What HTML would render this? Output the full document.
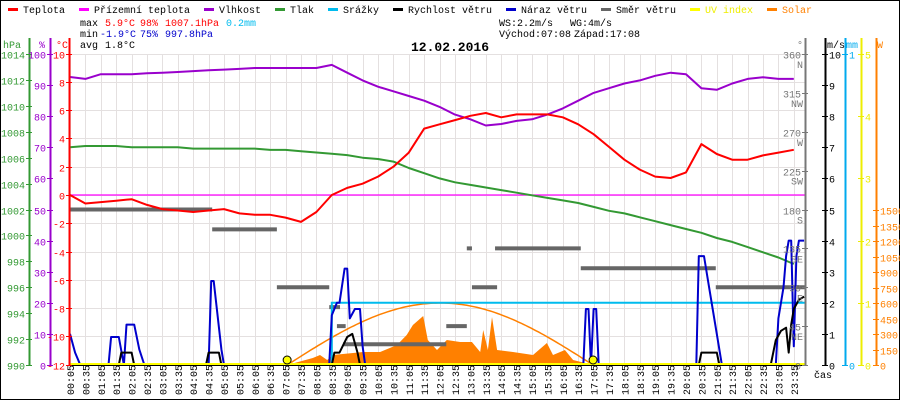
<!DOCTYPE html>
<html><head><meta charset="utf-8"><style>
html,body{margin:0;padding:0;background:#fff;}
#wrap{position:relative;width:900px;height:400px;overflow:hidden;}
svg{position:absolute;left:0;top:0;font-family:"Liberation Mono",monospace;}
</style></head><body>
<div id="wrap">
<svg id="svg" width="900" height="400" xmlns="http://www.w3.org/2000/svg"></svg>
</div>
<script>
// ---- data (time in minutes from midnight) ----
const halfHours = [];
for (let i = 0; i < 48; i++) halfHours.push(5 + i * 30);
const tempValues = [0,-0.6,-0.5,-0.4,-0.3,-0.7,-1.0,-1.1,-1.2,-1.1,-1.0,-1.3,-1.4,-1.4,-1.6,-1.9,-1.2,0,0.5,0.8,1.3,2.0,3.0,4.7,5.0,5.3,5.6,5.8,5.5,5.7,5.7,5.7,5.5,5.0,4.3,3.4,2.5,1.8,1.3,1.2,1.6,3.6,2.9,2.5,2.5,2.8,3.0,3.2];
const humValues = [92.6,92,93.5,93.5,93.5,93.8,94,94.2,94.5,94.8,95,95.2,95.5,95.5,95.5,95.5,95.5,96.5,94,91.5,89.5,88,86.5,85,83,80.5,79,77,77.5,78.5,79,80.5,82.5,85,87.5,89,90.5,91.5,93,94,93.5,89,88.5,90.5,92,92.5,92,92];
const pressValues = [1006.8,1006.9,1006.9,1006.9,1006.8,1006.8,1006.8,1006.8,1006.7,1006.7,1006.7,1006.7,1006.7,1006.6,1006.6,1006.5,1006.4,1006.3,1006.2,1006.0,1005.9,1005.7,1005.2,1004.8,1004.4,1004.1,1003.9,1003.7,1003.5,1003.3,1003.1,1002.9,1002.7,1002.5,1002.2,1001.9,1001.7,1001.4,1001.1,1000.8,1000.5,1000.2,999.8,999.5,999.1,998.7,998.3,997.8];
const gustTimes = [5,15,25,80,85,100,110,115,130,140,150,155,170,275,280,285,300,305,510,515,525,530,540,545,550,560,570,575,580,590,600,1005,1010,1015,1020,1025,1030,1035,1225,1230,1240,1250,1265,1275,1380,1385,1395,1400,1405,1410,1415,1420,1425,1435];
const gustValues = [1,0.4,0,0,0.9,0.9,0,1.3,1.3,0.5,0,0,0,0,2.7,2.7,0.5,0,0,1.6,2.0,2.0,3.1,3.1,1.5,1.8,1.8,0.6,0,0,0,0,1.8,1.8,0,1.8,1.8,0,0,3.5,3.5,2.5,1.0,0,0,1.5,2.5,3.5,4.0,4.0,0.6,3.5,4.0,4.0];
const speedTimes = [5,100,105,110,120,125,130,270,275,290,295,300,515,520,530,545,555,565,570,1230,1235,1260,1265,1270,1370,1380,1390,1400,1405,1410,1415,1425,1435];
const speedValues = [0,0,0.4,0.4,0.4,0.4,0,0,0.4,0.4,0.4,0,0,0.4,0.4,0.9,1.0,0.4,0,0,0.4,0.4,0.4,0,0,0.8,1.1,1.2,0.4,1.3,1.8,2.1,2.2];
const dirStart = [5,282,408,510,525,537,648,738,778,788,833,1000,1263];
const dirEnd = [282,408,510,531,542,648,738,778,788,837,1000,1263,1440];
const dirValues = [180,157,90,67,45,24,24,45,135,90,135,112,90];
const solarTimes = [428,478,492,506,517,576,609,642,661,673,693,702,720,739,765,788,804,810,819,827,837,868,907,934,946,969,985,1024];
const solarValues = [0,68,97,48,97,126,126,194,290,387,474,242,145,242,223,223,126,339,145,465,145,126,97,213,97,145,48,0];
const precipStart = 515, precipEnd = 1440, precipValue = 0.2;
const sunrise = 428, sunset = 1024, solarMax = 600;
const xTickLabels = [];
for (let i = 0; i < 48; i++) { const m = 5 + i * 30; xTickLabels.push(String(Math.floor(m/60)).padStart(2,'0') + ':' + String(m%60).padStart(2,'0')); }
const legendLabels = ['Teplota','Přízemní teplota','Vlhkost','Tlak','Srážky','Rychlost větru','Náraz větru','Směr větru','UV index','Solar'];
const legendColors = ['#ff0000','#ff00ff','#9900cc','#339933','#00bbee','#000000','#0000cc','#666666','#ffff00','#ff8000'];

// ---- scales ----
const X0 = 70, Y0 = 54, Y1 = 365;
const xs = t => Math.min(805, X0 + (t - 5) / 30 * 15.4);
const yT = v => 195 - v * 14.136;
const yH = v => Y1 - v * 3.11;
const yP = v => Y0 + (1014 - v) * 12.96;
const yW = v => Y1 - v * 31.1;
const yD = v => Y1 - v * 311 / 360;
const yS = v => Y1 - v * 0.10333;
const yMM = v => Y1 - v * 311;
const yUV = v => Y1 - v * 62.2;

const svg = document.getElementById('svg');
const NS = 'http://www.w3.org/2000/svg';
function mk(tag, attrs, parent) {
  const e = document.createElementNS(NS, tag);
  for (const k in attrs) e.setAttribute(k, attrs[k]);
  (parent || svg).appendChild(e);
  return e;
}
function txt(x, y, s, fill, size, anchor, weight) {
  const e = mk('text', {x: x, y: y, fill: fill, 'font-size': size || 10, 'text-anchor': anchor || 'start', 'font-weight': weight || 'normal'});
  e.textContent = s;
  return e;
}

let e = mk('rect', {x: 0.5, y: 0.5, width: 899, height: 399, fill: 'none', stroke: '#000'});



const grid = mk('g', {stroke: '#e4e0e0', 'stroke-width': 1});


for (let i = 0; i < 48; i++) { const x = Math.round(xs(halfHours[i])) + 0.5; mk('line', {x1: x, y1: Y0, x2: x, y2: Y1}, grid); }
for (let v = -12; v <= 10; v += 2) { const y = Math.round(yT(v)) + 0.5; mk('line', {x1: X0, y1: y, x2: 805, y2: y}, grid); }

let d = 'M' + xs(solarTimes[0]) + ',' + Y1;
solarTimes.forEach((t, i) => { d += ' L' + xs(t).toFixed(1) + ',' + yS(solarValues[i]).toFixed(1); });
d += ' L' + xs(solarTimes[solarTimes.length-1]) + ',' + Y1 + 'Z';
e = mk('path', {d: d, fill: '#ff8000'});


d = '';
for (let t = sunrise; t <= sunset; t += 5) {
  const v = solarMax * Math.sin(Math.PI * (t - sunrise) / (sunset - sunrise));
  d += (d ? ' L' : 'M') + xs(t).toFixed(1) + ',' + yS(v).toFixed(1);
}
e = mk('path', {d: d, fill: 'none', stroke: '#ff8000', 'stroke-width': 1.5});



e = mk('line', {x1: X0, y1: yT(0), x2: 805, y2: yT(0), stroke: '#ff00ff', 'stroke-width': 1.2});



const dirG = mk('g', {fill: '#666'});


dirValues.forEach((v, i) => {
  const r = mk('rect', {x: xs(dirStart[i]), y: yD(v) - 2, width: xs(dirEnd[i]) - xs(dirStart[i]), height: 4}, dirG);
  
  
});

function line(times, vals, yf, color, name, w) {
  let dd = '';
  times.forEach((t, i) => { dd += (i ? ' L' : 'M') + xs(t).toFixed(1) + ',' + yf(vals[i]).toFixed(1); });
  const p = mk('path', {d: dd, fill: 'none', stroke: color, 'stroke-width': w || 2, 'stroke-linejoin': 'round'});
  
  
  return p;
}
d = 'M' + xs(precipStart) + ',' + Y1 + ' L' + xs(precipStart) + ',' + yMM(precipValue) + ' L' + xs(precipEnd) + ',' + yMM(precipValue);
e = mk('path', {d: d, fill: 'none', stroke: '#00bbee', 'stroke-width': 2});



line(halfHours, pressValues, yP, '#339933', 'pressure-line', 2);
line(halfHours, humValues, yH, '#9900cc', 'humidity-line', 2);
line(halfHours, tempValues, yT, '#ff0000', 'temperature-line', 2);
line(gustTimes, gustValues, yW, '#0000cc', 'wind-gust-line', 2);
line(speedTimes, speedValues, yW, '#000000', 'wind-speed-line', 2);

e = mk('line', {x1: X0, y1: Y1 - 1, x2: 805, y2: Y1 - 1, stroke: '#ffff00', 'stroke-width': 2});


[sunrise, sunset].forEach(t => {
  const c = mk('circle', {cx: xs(t), cy: Y1 - 5, r: 4, fill: '#ffff00', stroke: '#000', 'stroke-width': 1});
  
  
});
mk('line', {x1: X0, y1: Y1 + 0.5, x2: 805, y2: Y1 + 0.5, stroke: '#000'});

function axis(x, color, name, ticks, yf, labelFn, side, title, titleX) {
  const g = mk('g', {});
  
  
  mk('line', {x1: x + 0.5, y1: 38, x2: x + 0.5, y2: Y1, stroke: color, 'stroke-width': 2}, g);
  ticks.forEach(v => {
    const y = Math.round(yf(v)) + 0.5;
    mk('line', {x1: x - 3, y1: y, x2: x + 3, y2: y, stroke: color}, g);
    const lab = labelFn(v);
    const t = side === 'left' ? txt(x - 4, y + 4, lab, color, 10, 'end') : txt(x + 4, y + 4, lab, color, 10, 'start');
    
  });
  const tt = txt(titleX, 48, title, color, 10, 'middle', 'normal');
  
  
}
const pTicks = [], hTicks = [], tTicks = [], wTicks = [], dTicks = [], sTicks = [];
for (let v = 990; v <= 1014; v += 2) pTicks.push(v);
for (let v = 0; v <= 100; v += 10) hTicks.push(v);
for (let v = -12; v <= 10; v += 2) tTicks.push(v);
for (let v = 0; v <= 10; v++) wTicks.push(v);
for (let v = 0; v <= 360; v += 45) dTicks.push(v);
for (let v = 0; v <= 1500; v += 150) sTicks.push(v);
axis(29, '#339933', 'pressure-axis', pTicks, yP, v => String(v), 'left', 'hPa', 12);
axis(50, '#9900cc', 'humidity-axis', hTicks, yH, v => String(v), 'left', '%', 42);
axis(69, '#ff0000', 'temperature-axis', tTicks, yT, v => String(v), 'left', '°C', 62);
axis(805, '#777777', 'wind-direction-axis', dTicks, yD, v => String(v), 'left', '°', 800);
const compass = {0:'',45:'NE',90:'E',135:'SE',180:'S',225:'SW',270:'W',315:'NW',360:'N'};
dTicks.forEach(v => { if (compass[v]) txt(803, yD(v) + 14, compass[v], '#777', 10, 'end'); });
axis(825, '#000000', 'wind-speed-axis', wTicks, yW, v => String(v), 'right', 'm/s', 836);
axis(845, '#00aaee', 'precipitation-axis', [0, 1], yMM, v => String(v), 'right', 'mm', 852);
axis(861, '#eeee00', 'uv-axis', [0,1,2,3,4,5], yUV, v => String(v), 'right', '', 866);
axis(876, '#ff8000', 'solar-axis', sTicks, yS, v => String(v), 'right', 'W', 880);

xTickLabels.forEach((s, i) => {
  const x = xs(halfHours[i]);
  const t = mk('text', {x: 0, y: 0, fill: '#000', 'font-size': 10, transform: 'translate(' + (x + 4) + ',395) rotate(-90)'});
  t.textContent = s;
  
  
});
txt(814, 378, 'čas', '#000', 10, 'start');

let lx = 8;
const lg = mk('g', {});


legendLabels.forEach((s, i) => {
  const item = mk('g', {}, lg);
  
  
  mk('rect', {x: lx, y: 8, width: 10, height: 3, fill: legendColors[i]}, item);
  const t = mk('text', {x: lx + 15, y: 13, fill: i === 8 ? '#eeee00' : (i === 9 ? '#ff8000' : '#000'), 'font-size': 10}, item);
  t.textContent = s;
  lx += 15 + s.length * 6 + 14;
});

txt(80, 26, 'max', '#000'); txt(105, 26, '5.9°C', '#ff0000'); txt(140, 26, '98%', '#ff0000'); txt(165, 26, '1007.1hPa', '#ff0000'); txt(226, 26, '0.2mm', '#00bbee');
txt(80, 37, 'min', '#000'); txt(100, 37, '-1.9°C', '#0000cc'); txt(140, 37, '75%', '#0000cc'); txt(165, 37, '997.8hPa', '#0000cc');
txt(80, 48, 'avg', '#000'); txt(105, 48, '1.8°C', '#000');
txt(499, 26, 'WS:2.2m/s', '#000'); txt(570, 26, 'WG:4m/s', '#000');
txt(499, 37, 'Východ:07:08', '#000'); txt(574, 37, 'Západ:17:08', '#000');
const title = txt(450, 51, '12.02.2016', '#000', 13, 'middle', 'bold');


</script>
</body></html>
